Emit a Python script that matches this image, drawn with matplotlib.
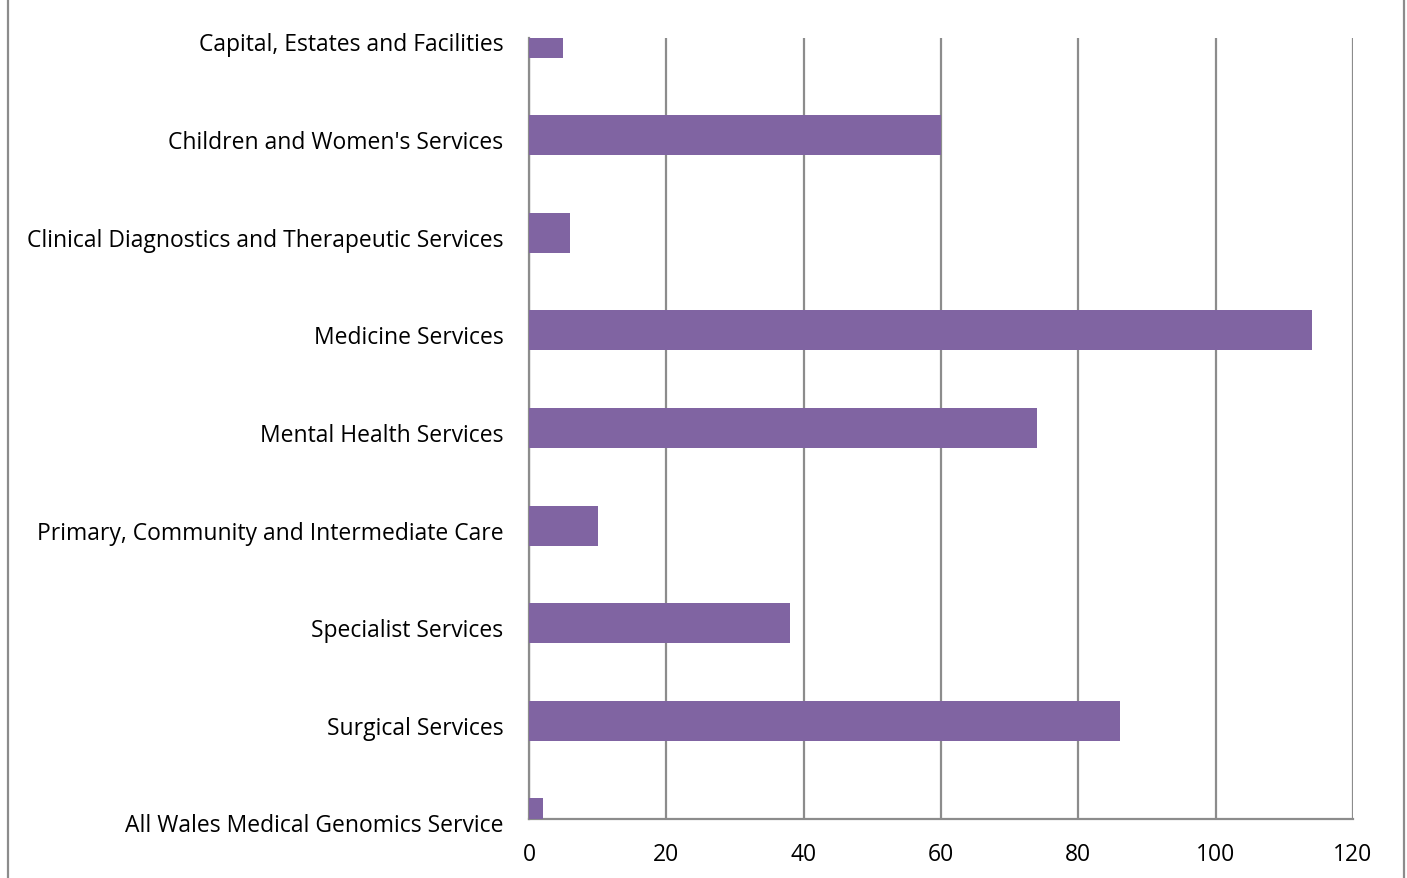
import matplotlib
matplotlib.use('Agg')
import matplotlib.pyplot as plt
import matplotlib.transforms as mtransforms
from matplotlib.lines import Line2D

categories = ['Capital, Estates and Facilities',
              "Children and Women's Services",
              'Clinical Diagnostics and Therapeutic Services',
              'Medicine Services',
              'Mental Health Services',
              'Primary, Community and Intermediate Care',
              'Specialist Services',
              'Surgical Services',
              'All Wales Medical Genomics Service']
values = [5, 60, 6, 114, 74, 10, 38, 86, 2]
xticks = [0, 20, 40, 60, 80, 100, 120]

plt.rcParams['font.family'] = ['Open Sans', 'DejaVu Sans']

fig = plt.figure(figsize=(14.07, 8.79), dpi=100)
ax = fig.add_axes([529/1407, 1 - 819.5/879, (1353 - 529)/1407, (819.5 - 38.5)/879])

ypos = list(range(len(categories)))
ax.barh(ypos, values, height=0.41, color='#8064A2', zorder=3)
ax.set_ylim(len(categories) - 1, 0)
ax.set_xlim(0, 120)
ax.set_xticks(xticks)
ax.set_xticklabels([str(t) for t in xticks], fontsize=16.5)
ax.set_yticks(ypos)
ax.set_yticklabels(categories, fontsize=16.5)
ax.tick_params(axis='both', length=0, colors='black')
ax.tick_params(axis='x', pad=17)
ax.tick_params(axis='y', pad=18.5)

# nudge y labels slightly down like the original
offset = mtransforms.ScaledTranslation(0, -4/100, fig.dpi_scale_trans)
for lab in ax.get_yticklabels():
    lab.set_transform(lab.get_transform() + offset)

ax.grid(axis='x', color='#8c8c8c', linewidth=1.6, zorder=0)
ax.grid(axis='y', visible=False)
for side in ['top', 'right']:
    ax.spines[side].set_visible(False)
for side in ['left', 'bottom']:
    ax.spines[side].set_color('#8c8c8c')
    ax.spines[side].set_linewidth(1.6)

# outer frame lines at the image edges
fig.add_artist(Line2D([8/1407, 8/1407], [0, 1], color='#8c8c8c', linewidth=1.6))
fig.add_artist(Line2D([1404/1407, 1404/1407], [0, 1], color='#8c8c8c', linewidth=1.6))

fig.savefig('out.png', dpi=100)
